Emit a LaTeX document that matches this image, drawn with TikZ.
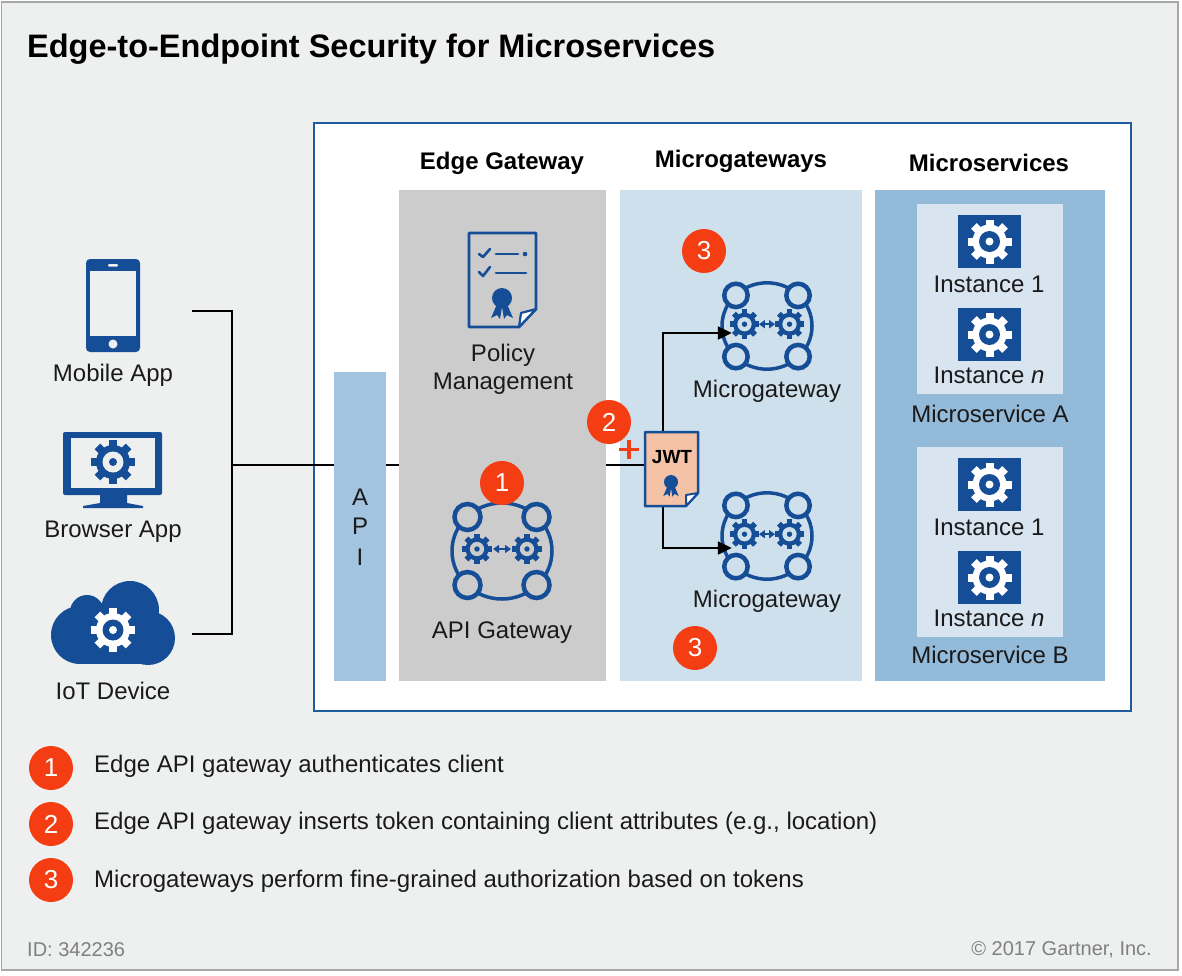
\documentclass[tikz,border=0pt]{standalone}
\usepackage{fontspec}
\setmainfont{Liberation Sans}
\usetikzlibrary{arrows.meta}
\definecolor{bg}{HTML}{EEF0F0}
\definecolor{frameg}{HTML}{A6A8A8}
\definecolor{gblue}{HTML}{154E96}
\definecolor{pblue}{HTML}{1F5C9E}
\definecolor{apib}{HTML}{A3C4E0}
\definecolor{edgeg}{HTML}{CCCCCC}
\definecolor{microb}{HTML}{CFE0ED}
\definecolor{svcb}{HTML}{94BAD9}
\definecolor{inst}{HTML}{D9E4F1}
\definecolor{orng}{HTML}{F43D12}
\definecolor{peach}{HTML}{F4C2A6}
\definecolor{ink}{HTML}{1A1A1A}
\newcommand{\fs}[1]{\fontsize{#1}{#1}\selectfont}
\tikzset{
  lbl/.style={text=ink,font=\fs{24},inner sep=0pt,align=center},
  hdr/.style={text=black,font=\fs{24}\bfseries,inner sep=0pt},
  legend/.style={text=ink,font=\fs{24},inner sep=0pt,anchor=west},
  badge/.style={circle,fill=orng,text=white,font=\fs{26},minimum size=44pt,inner sep=0pt},
  zone/.style={anchor=north west,inner sep=0pt,outer sep=0pt},
  wire/.style={draw=black,line width=2.2pt},
  arrowwire/.style={wire,-{Triangle[length=14pt,width=13pt]}},
  pics/gear/.style 2 args={code={
    \foreach \a in {0,45,...,315}{\fill[#1,rotate=\a] (-4,-22) rectangle (4,-12);}
    \fill[#1] (0,0) circle (17);
    \fill[#2] (0,0) circle (10.5);
    \fill[#1] (0,0) circle (4);
  }},
  pics/gw/.style={code={
    \draw[gblue,line width=3.5pt] (0,0) ellipse (50 and 48);
    \foreach \p in {(-34.5,-34),(34.5,-34),(-34.5,34),(34.5,34)}{
      \draw[gblue,line width=4.5pt,fill=#1] \p circle (13);}
    \pic[scale=.68] at (-25,-2) {gear={gblue}{#1}};
    \pic[scale=.68] at (25,-2) {gear={gblue}{#1}};
    \draw[gblue,line width=2.5pt,{Triangle[length=6pt,width=8pt]}-{Triangle[length=6pt,width=8pt]}] (-9,-2) -- (9,-2);
  }},
  pics/ribbon/.style={code={
    \fill[gblue] (0,0) circle (10);
    \fill[gblue] (-5,6) -- (-11,20) -- (-5,17) -- (-2,21) -- (0,9) -- (2,21) -- (5,17) -- (11,20) -- (5,6) -- cycle;
  }},
}
\begin{document}
\begin{tikzpicture}[x=1pt,y=-1pt]
\useasboundingbox (0,0) rectangle (1182,975);
\fill[white] (0,0) rectangle (1182,975);
\draw[frameg,line width=1.5pt,fill=bg] (1.5,2) rectangle (1178,970);
\node[anchor=west,inner sep=0pt,font=\fs{32.5}\bfseries,text=black] (title) at (27,49) {Edge-to-Endpoint Security for Microservices};

% panel and zones
\draw[pblue,line width=2pt,fill=white] (314,123) rectangle (1131,711);
\node[zone,fill=apib,minimum width=52pt,minimum height=309pt] (api) at (334,372) {};
\node[zone,fill=edgeg,minimum width=207pt,minimum height=491pt] (edge) at (399,190) {};
\node[zone,fill=microb,minimum width=242pt,minimum height=491pt] (micro) at (620,190) {};
\node[zone,fill=svcb,minimum width=230pt,minimum height=491pt] (svc) at (875,190) {};
\node[hdr] (h1) at (502,163) {Edge Gateway};
\node[hdr] (h2) at (741,161) {Microgateways};
\node[hdr] (h3) at (989,163) {Microservices};
\node[lbl] (a1) at (360,497) {A};
\node[lbl] (a2) at (360,526) {P};
\node[lbl] (a3) at (360,557) {I};

% connectors
\coordinate (m) at (192,311);
\coordinate (iot) at (192,634);
\coordinate (join) at (232,465);
\coordinate (apiL) at (api.west |- join);
\coordinate (apiR) at (api.east |- join);
\coordinate (edgeL) at (edge.west |- join);
\coordinate (edgeR) at (edge.east |- join);
\draw[wire,line join=miter] (m) -- (232,311) -- (232,634) -- (iot);
\draw[wire] (join) -- (apiL);
\draw[wire] (apiR) -- (edgeL);

% microgateway icons
\node[inner sep=0pt,minimum size=70pt] (gw1) at (767,326) {};
\node[inner sep=0pt,minimum size=70pt] (gw2) at (767,536) {};
\pic[scale=.9] at (gw1) {gw=microb};
\pic[scale=.9] at (gw2) {gw=microb};
\node[lbl] (gw1l) at (767,391) {Microgateway};
\node[lbl] (gw2l) at (767,601) {Microgateway};

% JWT
\node[inner sep=0pt,minimum width=53pt,minimum height=74pt] (jwt) at (672,469) {};
\draw[wire] (edgeR) -- (jwt.west |- join);
\draw[arrowwire] (jwt.north -| 663,0) -- (663,333) -- (gw1.west |- 0,333);
\draw[arrowwire] (jwt.south -| 663,0) -- (663,548) -- (gw2.west |- 0,548);
\draw[gblue,line width=2.5pt,line join=round,fill=peach] (645,432) -- (698,432) -- (698,493) -- (686,506) -- (645,506) -- cycle;
\draw[gblue,line width=2pt,line join=round,fill=white] (698,493) -- (686,495) -- (686,506) -- cycle;
\node[font=\fs{19}\bfseries,text=black,inner sep=0pt] (jwtl) at (672,457) {JWT};
\pic[scale=.7] at (671,482) {ribbon};
\draw[orng,line width=3.2pt] (619,449.5) -- (639,449.5) (629,440) -- (629,459);

% policy
\draw[gblue,line width=2.8pt,line join=round] (469,233) -- (536,233) -- (536,309) -- (519,327) -- (469,327) -- cycle;
\draw[gblue,line width=2.2pt,line join=round,fill=white] (536,309) -- (521,313) -- (519,327) -- cycle;
\draw[gblue,line width=2.6pt,line cap=round,line join=round] (479,254) -- (483,257) -- (490,249) (479,272) -- (483,276) -- (490,267);
\draw[gblue,line width=2.8pt,line cap=round] (496,254) -- (518,254) (496,273) -- (526,273);
\fill[gblue] (525,254) circle (2.3);
\pic at (502,298) {ribbon};
\node[lbl,font=\fs{24}\linespread{1.12}\selectfont] (pol) at (503,369) {Policy\\[1pt]Management};

% api gateway
\node[inner sep=0pt,minimum size=80pt] (agw) at (502,551) {};
\pic at (agw) {gw=edgeg};
\node[lbl] (agwl) at (502,633) {API Gateway};

% microservices
\foreach \n/\t/\yb in {A/204/414,B/447/655}{
  \node[zone,fill=inst,minimum width=146pt,minimum height=190pt] (box\n) at (917,\t) {};
  \node[lbl] (svc\n) at (990,\yb) {Microservice \n};
}
\foreach \n/\yt/\yl/\tx in {a/215/284/Instance 1,b/308/375/Instance \textit{n},c/458/527/Instance 1,d/551/618/Instance \textit{n}}{
  \node[zone,fill=gblue,minimum width=63pt,minimum height=53pt] (sq\n) at (958,\yt) {};
  \pic at (sq\n.center) {gear={white}{gblue}};
  \node[lbl] (il\n) at (989,\yl) {\tx};
}

% clients
\fill[gblue,rounded corners=4pt] (86,259) rectangle (140,352);
\fill[bg] (90,271) rectangle (136,336);
\fill[bg,rounded corners=1pt] (108,264) rectangle (118,266.5);
\fill[bg] (113,344) circle (4.5);
\node[lbl] (ml) at (113,375) {Mobile App};

\fill[gblue,rounded corners=2pt] (63,432) rectangle (162,495);
\fill[bg] (71,438) rectangle (155,488);
\fill[gblue] (100,494) -- (127,494) -- (127,503) -- (143,506) -- (143,508) -- (83,508) -- (83,506) -- (100,503) -- cycle;
\pic at (113,462) {gear={gblue}{bg}};
\node[lbl] (bl) at (113,532) {Browser App};

\fill[gblue] (80,635) circle (29) (148,638) circle (27) (130,610) circle (29) (87,612) circle (17);
\fill[gblue] (80,625) rectangle (148,664);
\pic at (113,630) {gear={white}{gblue}};
\node[lbl] (il) at (113,691) {IoT Device};

% badges
\node[badge] (b1) at (502,483) {1};
\node[badge] (b2) at (609,422) {2};
\node[badge] (b3a) at (704,251) {3};
\node[badge] (b3b) at (695,648) {3};
\node[badge] (k1) at (51,768) {1};
\node[badge] (k2) at (51,824) {2};
\node[badge] (k3) at (51,880) {3};
\node[legend] (t1) at (94,766) {Edge API gateway authenticates client};
\node[legend] (t2) at (94,823) {Edge API gateway inserts token containing client attributes (e.g., location)};
\node[legend] (t3) at (94,881) {Microgateways perform fine-grained authorization based on tokens};

\node[anchor=west,inner sep=0pt,font=\fs{20},text=gray] (id) at (27,950) {ID: 342236};
\node[anchor=east,inner sep=0pt,font=\fs{20},text=gray] (cr) at (1152,950) {© 2017 Gartner, Inc.};
\end{tikzpicture}
\end{document}
